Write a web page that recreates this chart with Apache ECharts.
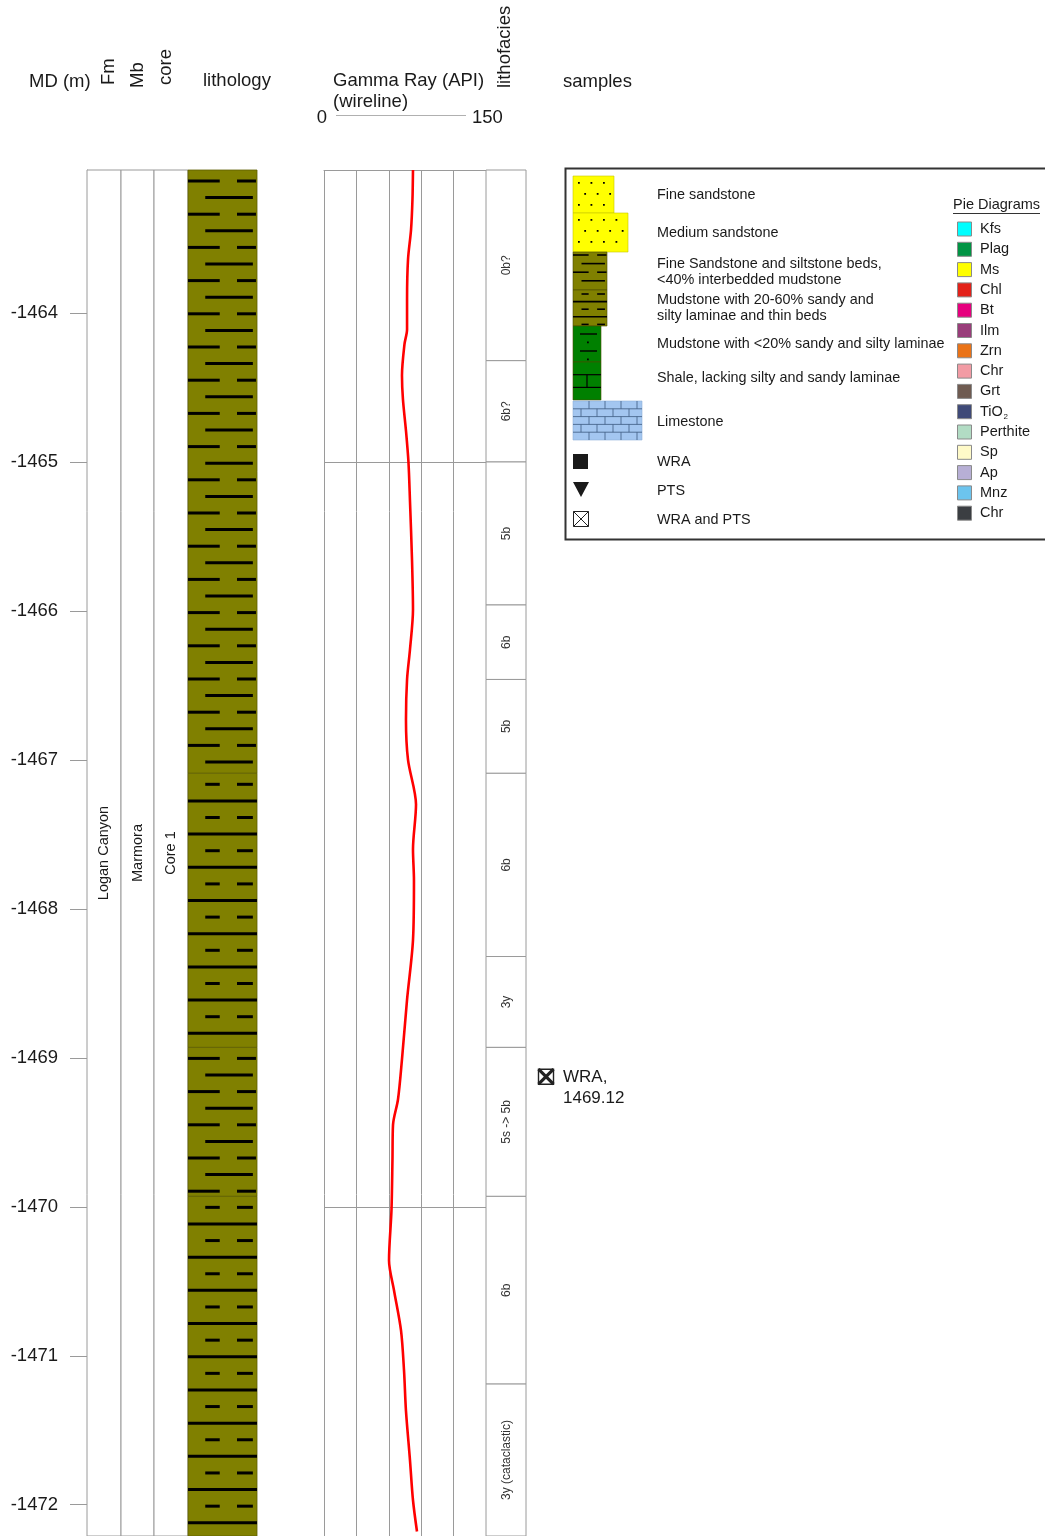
<!DOCTYPE html>
<html>
<head>
<meta charset="utf-8">
<title>Well log – Logan Canyon Fm, Marmora Mb, Core 1</title>
<script src="https://cdn.jsdelivr.net/npm/echarts@6/dist/echarts.min.js"></script>
<style>
  html, body { margin: 0; padding: 0; background: #fff; }
  #chart { width: 1045px; height: 1536px; }
</style>
</head>
<body>
<div id="chart"></div>
<script>
// ---- depth window (MD, m; negative downwards) ----
const depthTop = -1463.04;
const depthBase = -1472.21;
const depthTicks = [-1464, -1465, -1466, -1467, -1468, -1469, -1470, -1471, -1472];

// ---- gamma ray log (wireline), API ----
const grRange = [0, 150];
const grTickLabels = ['0', '150'];
const grDepth = [-1463.04, -1463.24, -1463.44, -1463.64, -1463.91, -1464.11, -1464.21, -1464.42, -1464.58, -1464.79,
                 -1465.00, -1465.26, -1465.66, -1465.99, -1466.26, -1466.46, -1466.73, -1467.00, -1467.30, -1467.60,
                 -1467.81, -1468.21, -1468.61, -1469.01, -1469.28, -1469.45, -1469.68, -1470.02, -1470.36, -1470.56,
                 -1470.83, -1471.10, -1471.37, -1471.70, -1471.97, -1472.18];
const grApi = [82.4, 81.9, 80.6, 77.8, 76.9, 76.9, 74.5, 72.2, 73.1, 75.9,
               78.2, 79.6, 81.5, 82.4, 79.6, 76.9, 75.9, 77.8, 85.2, 82.4,
               83.3, 82.4, 76.9, 72.2, 68.5, 63.9, 63.4, 62.5, 60.2, 64.8,
               71.3, 74.1, 75.9, 79.6, 82.4, 86.1];
const grGridDepths = [-1465, -1470];

// ---- stratigraphy ----
const fmNames = ['Logan Canyon'];
const mbNames = ['Marmora'];
const coreNames = ['Core 1'];

// ---- lithology intervals ----
const lithTops  = [-1463.04, -1467.09, -1468.93, -1469.93];
const lithBases = [-1467.09, -1468.93, -1469.93, -1472.21];
const lithTypes = ['sst', 'mud', 'sst', 'mud'];

// ---- lithofacies intervals ----
const faciesNames = ['0b?', '6b?', '5b', '6b', '5b', '6b', '3y', '5s -> 5b', '6b', '3y (cataclastic)'];
const faciesTops  = [-1463.04, -1464.32, -1465.00, -1465.96, -1466.46, -1467.09, -1468.32, -1468.93, -1469.93, -1471.19];
const faciesBases = [-1464.32, -1465.00, -1465.96, -1466.46, -1467.09, -1468.32, -1468.93, -1469.93, -1471.19, -1472.21];

// ---- samples ----
const sampleDepths = [-1469.12];
const sampleTypes = ['WRA'];

// ---- legend text ----
const lithLegendLabels = [
  'Fine sandstone',
  'Medium sandstone',
  'Fine Sandstone and siltstone beds,\n<40% interbedded mudstone',
  'Mudstone with 20-60% sandy and\nsilty laminae and thin beds',
  'Mudstone with <20% sandy and silty laminae',
  'Shale, lacking silty and sandy laminae',
  'Limestone'
];
const sampleLegendLabels = ['WRA', 'PTS', 'WRA and PTS'];
const pieTitle = 'Pie Diagrams';
const pieLabels = ['Kfs', 'Plag', 'Ms', 'Chl', 'Bt', 'Ilm', 'Zrn', 'Chr', 'Grt', 'TiO', 'Perthite', 'Sp', 'Ap', 'Mnz', 'Chr'];
const pieColors = ['#00ffff', '#009444', '#ffff00', '#e32119', '#e6007e', '#993d7a', '#ea7317', '#f29ba4',
                   '#6f5b51', '#3f4a78', '#b2dcc4', '#fffac8', '#b7afd5', '#6cc4ee', '#3b3e42'];

// ================= drawing =================
const FONT = '"Liberation Sans", Arial, Helvetica, sans-serif';
const GRID_TOP = 170;
const GRID_H = 1366;
const LINE_GREY = '#9a9a9a';
const OLIVE = '#808000';
const GREEN = '#008000';
const SAND = '#ffff00';
const LIME = '#a3c6f0';

const tracks = [
  { left: 87,  width: 34 },   // Fm
  { left: 121, width: 33 },   // Mb
  { left: 154, width: 34 },   // core
  { left: 188, width: 69 },   // lithology
  { left: 324, width: 162 },  // gamma ray
  { left: 486, width: 40 },   // lithofacies
  { left: 526, width: 519 }   // samples
];

const chart = echarts.init(document.getElementById('chart'), null, { renderer: 'canvas' });

function txt(x, y, text, o) {
  o = o || {};
  const al = o.align || 'left', va = o.va || 'middle';
  return {
    type: 'text', x: x, y: y, rotation: o.rot || 0, silent: true, z: 10,
    style: {
      text: text, fontSize: o.size || 18.5, fontFamily: FONT, fill: o.color || '#1a1a1a',
      align: al, textAlign: al, verticalAlign: va, textVerticalAlign: va,
      lineHeight: o.lh || undefined
    }
  };
}
function hline(x1, x2, y, color, w) {
  return { type: 'line', silent: true, shape: { x1: x1, y1: y, x2: x2, y2: y }, style: { stroke: color, lineWidth: w } };
}
function vline(x, y1, y2, color, w) {
  return { type: 'line', silent: true, shape: { x1: x, y1: y1, x2: x, y2: y2 }, style: { stroke: color, lineWidth: w } };
}

// horizontal bed-pattern segments, as fractions of the column width
const PATTERN_ROWS = {
  sst: [[[0, 0.46], [0.71, 0.985]], [[0.25, 0.94]]],
  mud: [[[0.25, 0.46], [0.71, 0.94]], [[0, 1]]]
};
function patternLines(kind, x0, y0, w, h, pitch, first, lw) {
  const out = [];
  const rows = PATTERN_ROWS[kind];
  let k = 0;
  for (let y = y0 + first; y < y0 + h - lw / 2; y += pitch, k++) {
    rows[k % 2].forEach(function (s) {
      out.push(hline(x0 + s[0] * w, x0 + s[1] * w, y, '#000', lw));
    });
  }
  return out;
}

// ---- custom series renderers ----
function unitRender(names) {
  return function (params, api) {
    const p0 = api.coord([0, api.value(1)]);
    const p1 = api.coord([1, api.value(2)]);
    const cx = (p0[0] + p1[0]) / 2, cy = (p0[1] + p1[1]) / 2;
    return {
      type: 'group',
      children: [
        { type: 'rect', shape: { x: p0[0], y: p0[1], width: p1[0] - p0[0], height: p1[1] - p0[1] },
          style: { fill: '#fff', stroke: LINE_GREY, lineWidth: 1 } },
        { type: 'text', x: cx, y: cy, rotation: Math.PI / 2,
          style: { text: names[params.dataIndex], fontSize: 14.5, fontFamily: FONT, fill: '#1a1a1a',
                   align: 'center', textAlign: 'center', verticalAlign: 'middle', textVerticalAlign: 'middle' } }
      ]
    };
  };
}

function lithRender(params, api) {
  const p0 = api.coord([0, api.value(1)]);
  const p1 = api.coord([1, api.value(2)]);
  const x0 = p0[0], y0 = p0[1], w = p1[0] - p0[0], h = p1[1] - p0[1];
  const kids = [{ type: 'rect', shape: { x: x0, y: y0, width: w, height: h },
                  style: { fill: OLIVE, stroke: '#5e5e00', lineWidth: 0.8 } }];
  return { type: 'group', children: kids.concat(patternLines(lithTypes[params.dataIndex], x0, y0, w, h, 16.6, 11, 3)) };
}

function faciesRender(params, api) {
  const p0 = api.coord([0, api.value(1)]);
  const p1 = api.coord([1, api.value(2)]);
  const cx = (p0[0] + p1[0]) / 2 + 1, cy = (p0[1] + p1[1]) / 2;
  return {
    type: 'group',
    children: [
      { type: 'rect', shape: { x: p0[0], y: p0[1], width: p1[0] - p0[0], height: p1[1] - p0[1] },
        style: { fill: '#fff', stroke: LINE_GREY, lineWidth: 1 } },
      { type: 'text', x: cx, y: cy, rotation: Math.PI / 2,
        style: { text: faciesNames[params.dataIndex], fontSize: 12, fontFamily: FONT, fill: '#333',
                 align: 'center', textAlign: 'center', verticalAlign: 'middle', textVerticalAlign: 'middle' } }
    ]
  };
}

function sampleRender(params, api) {
  const d = api.value(1);
  const p = api.coord([0, d]);
  const cx = p[0] + 20, cy = p[1] + 1, s = 7.5;
  return {
    type: 'group',
    children: [
      { type: 'rect', shape: { x: cx - s, y: cy - s, width: 2 * s, height: 2 * s },
        style: { fill: '#fff', stroke: '#222', lineWidth: 1.4 } },
      { type: 'line', shape: { x1: cx - s, y1: cy - s, x2: cx + s, y2: cy + s }, style: { stroke: '#222', lineWidth: 3.2 } },
      { type: 'line', shape: { x1: cx + s, y1: cy - s, x2: cx - s, y2: cy + s }, style: { stroke: '#222', lineWidth: 3.2 } },
      { type: 'text', x: p[0] + 37, y: p[1] - 9,
        style: { text: sampleTypes[params.dataIndex] + ',\n' + Math.abs(d).toFixed(2), fontSize: 17, lineHeight: 21,
                 fontFamily: FONT, fill: '#1a1a1a', align: 'left', textAlign: 'left', verticalAlign: 'top', textVerticalAlign: 'top' } }
    ]
  };
}

function intervals(tops, bases) {
  return tops.map(function (t, i) { return [0, t, bases[i]]; });
}

// ---- axes ----
const xAxis = tracks.map(function (t, i) {
  if (i === 4) {
    return {
      gridIndex: i, type: 'value', min: grRange[0], max: grRange[1], interval: 30, position: 'top',
      axisLine: { show: true, lineStyle: { color: LINE_GREY, width: 1 } },
      axisTick: { show: false }, axisLabel: { show: false },
      splitLine: { show: true, lineStyle: { color: LINE_GREY, width: 1 } }
    };
  }
  return { gridIndex: i, type: 'value', min: 0, max: 1, show: false };
});
const yAxis = tracks.map(function (t, i) {
  const ax = { gridIndex: i, type: 'value', min: depthBase, max: depthTop, show: i === 0, splitLine: { show: false } };
  if (i === 0) {
    ax.axisLine = { show: true, lineStyle: { color: LINE_GREY, width: 1 } };
    ax.axisTick = { show: true, length: 17, lineStyle: { color: LINE_GREY, width: 1 }, customValues: depthTicks };
    ax.axisLabel = { show: true, customValues: depthTicks, margin: 29, fontSize: 18.5, fontFamily: FONT, color: '#1a1a1a',
                     formatter: function (v) { return String(v); } };
  }
  return ax;
});

// ---- legend graphics ----
function dots(x0, y0, w, h, pitchX, pitchY) {
  const out = [];
  let r = 0;
  for (let y = y0 + 6; y < y0 + h - 2; y += pitchY, r++) {
    for (let x = x0 + 5 + (r % 2 ? pitchX / 2 : 0); x < x0 + w - 2; x += pitchX) {
      out.push({ type: 'rect', silent: true, shape: { x: x, y: y, width: 1.8, height: 1.8 }, style: { fill: '#000' } });
    }
  }
  return out;
}
function bricks(x0, y0, w, h, pitchY, brickW, color, lw) {
  const out = [];
  let r = 0;
  for (let y = y0; y < y0 + h; y += pitchY, r++) {
    if (y > y0) out.push(hline(x0, x0 + w, y, color, lw));
    const yb = Math.min(y + pitchY, y0 + h);
    for (let x = x0 + (r % 2 ? brickW / 2 : brickW); x < x0 + w - 1; x += brickW) {
      out.push(vline(x, y, yb, color, lw));
    }
  }
  return out;
}

const swatches = [
  { x: 573, y: 176, w: 41, h: 37, fill: SAND },
  { x: 573, y: 213, w: 55, h: 39, fill: SAND },
  { x: 573, y: 252, w: 34, h: 38, fill: OLIVE },
  { x: 573, y: 290, w: 34, h: 36, fill: OLIVE },
  { x: 573, y: 326, w: 28, h: 36, fill: GREEN },
  { x: 573, y: 362, w: 28, h: 38, fill: GREEN },
  { x: 573, y: 401, w: 69, h: 39, fill: LIME }
];
const legendTextY = [195, 233, 272, 308, 344, 378, 422];

const legend = [];
legend.push({ type: 'rect', silent: true, shape: { x: 565.5, y: 168.5, width: 520, height: 371 },
              style: { fill: '#fff', stroke: '#333', lineWidth: 2 } });
swatches.forEach(function (s, i) {
  legend.push({ type: 'rect', silent: true, shape: { x: s.x, y: s.y, width: s.w, height: s.h },
                style: { fill: s.fill, stroke: i >= 6 ? '#8fb0d8' : (i < 2 ? '#c8c800' : '#4a4a00'), lineWidth: 0.6 } });
  let p = [];
  if (i < 2) p = dots(s.x, s.y, s.w, s.h, 12.5, 11);
  else if (i === 2) p = patternLines('sst', s.x, s.y, s.w, s.h, 8.6, 3, 1.6);
  else if (i === 3) p = patternLines('mud', s.x, s.y, s.w, s.h, 7.6, 4, 1.6);
  else if (i === 4) {
    for (let y = s.y + 8, k = 0; y < s.y + s.h - 1; y += 8.5, k++) {
      if (k % 2 === 0) p.push(hline(s.x + 7, s.x + 24, y, '#000', 1.4));
      else p.push({ type: 'rect', silent: true, shape: { x: s.x + 14, y: y - 1, width: 1.8, height: 1.8 }, style: { fill: '#000' } });
    }
  } else if (i === 5) p = bricks(s.x, s.y, s.w, s.h, 12.7, 28, '#000', 1.2);
  else p = bricks(s.x, s.y, s.w, s.h, 7.8, 16, '#3d5a80', 0.8);
  p.forEach(function (e) { legend.push(e); });
  legend.push(txt(657, legendTextY[i], lithLegendLabels[i], { size: 14.4, lh: 16 }));
});
// sample symbols
legend.push({ type: 'rect', silent: true, shape: { x: 573, y: 454, width: 15, height: 15 }, style: { fill: '#1a1a1a' } });
legend.push({ type: 'polygon', silent: true, shape: { points: [[573, 482], [589, 482], [581, 497]] }, style: { fill: '#1a1a1a' } });
legend.push({ type: 'rect', silent: true, shape: { x: 573.5, y: 511.5, width: 15, height: 15 }, style: { fill: '#fff', stroke: '#222', lineWidth: 1 } });
legend.push({ type: 'line', silent: true, shape: { x1: 573.5, y1: 511.5, x2: 588.5, y2: 526.5 }, style: { stroke: '#222', lineWidth: 1 } });
legend.push({ type: 'line', silent: true, shape: { x1: 588.5, y1: 511.5, x2: 573.5, y2: 526.5 }, style: { stroke: '#222', lineWidth: 1 } });
[462, 491, 520].forEach(function (y, i) { legend.push(txt(657, y, sampleLegendLabels[i], { size: 14.4 })); });
// mineral colour key
legend.push(txt(953, 205, pieTitle, { size: 14.5 }));
legend.push(hline(953, 1040, 213.5, '#333', 1));
pieLabels.forEach(function (lab, i) {
  const y = 229 + i * 20.3;
  legend.push({ type: 'rect', silent: true, shape: { x: 957.5, y: y - 7, width: 14, height: 14 },
                style: { fill: pieColors[i], stroke: '#8a8a8a', lineWidth: 1 } });
  legend.push(txt(980, y, lab, { size: 14.5 }));
  if (lab === 'TiO') legend.push(txt(1003.5, y + 5, '2', { size: 8 }));
});

// ---- column headers ----
const headers = [
  txt(29, 82, 'MD (m)'),
  txt(109, 85, 'Fm', { rot: Math.PI / 2 }),
  txt(138, 88, 'Mb', { rot: Math.PI / 2 }),
  txt(166, 85, 'core', { rot: Math.PI / 2 }),
  txt(203, 81, 'lithology'),
  txt(333, 81, 'Gamma Ray (API)'),
  txt(333, 102, '(wireline)'),
  txt(322, 118, grTickLabels[0], { align: 'center' }),
  hline(336, 466, 115.5, '#b0b0b0', 1),
  txt(472, 118, grTickLabels[1]),
  txt(505, 88, 'lithofacies', { rot: Math.PI / 2 }),
  txt(563, 82, 'samples')
];

const option = {
  animation: false,
  backgroundColor: '#fff',
  grid: tracks.map(function (t) { return { left: t.left, width: t.width, top: GRID_TOP, height: GRID_H }; }),
  xAxis: xAxis,
  yAxis: yAxis,
  graphic: { elements: headers.concat(legend) },
  series: [
    { type: 'custom', xAxisIndex: 0, yAxisIndex: 0, renderItem: unitRender(fmNames), silent: true,
      encode: { x: 0, y: [1, 2] }, data: [[0, depthTop, depthBase]] },
    { type: 'custom', xAxisIndex: 1, yAxisIndex: 1, renderItem: unitRender(mbNames), silent: true,
      encode: { x: 0, y: [1, 2] }, data: [[0, depthTop, depthBase]] },
    { type: 'custom', xAxisIndex: 2, yAxisIndex: 2, renderItem: unitRender(coreNames), silent: true,
      encode: { x: 0, y: [1, 2] }, data: [[0, depthTop, depthBase]] },
    { type: 'custom', xAxisIndex: 3, yAxisIndex: 3, renderItem: lithRender, silent: true,
      encode: { x: 0, y: [1, 2] }, data: intervals(lithTops, lithBases) },
    { type: 'line', xAxisIndex: 4, yAxisIndex: 4, silent: true, symbol: 'none', smooth: 0.3, z: 5,
      lineStyle: { color: '#ff0000', width: 2.6 },
      data: grDepth.map(function (d, i) { return [grApi[i], d]; }),
      markLine: { silent: true, symbol: ['none', 'none'], label: { show: false },
                  lineStyle: { color: LINE_GREY, type: 'solid', width: 1 },
                  data: grGridDepths.map(function (d) { return { yAxis: d }; }) } },
    { type: 'custom', xAxisIndex: 5, yAxisIndex: 5, renderItem: faciesRender, silent: true,
      encode: { x: 0, y: [1, 2] }, data: intervals(faciesTops, faciesBases) },
    { type: 'custom', xAxisIndex: 6, yAxisIndex: 6, renderItem: sampleRender, silent: true,
      encode: { x: 0, y: 1 }, data: sampleDepths.map(function (d) { return [0, d]; }) }
  ]
};
chart.setOption(option);
</script>
</body>
</html>
